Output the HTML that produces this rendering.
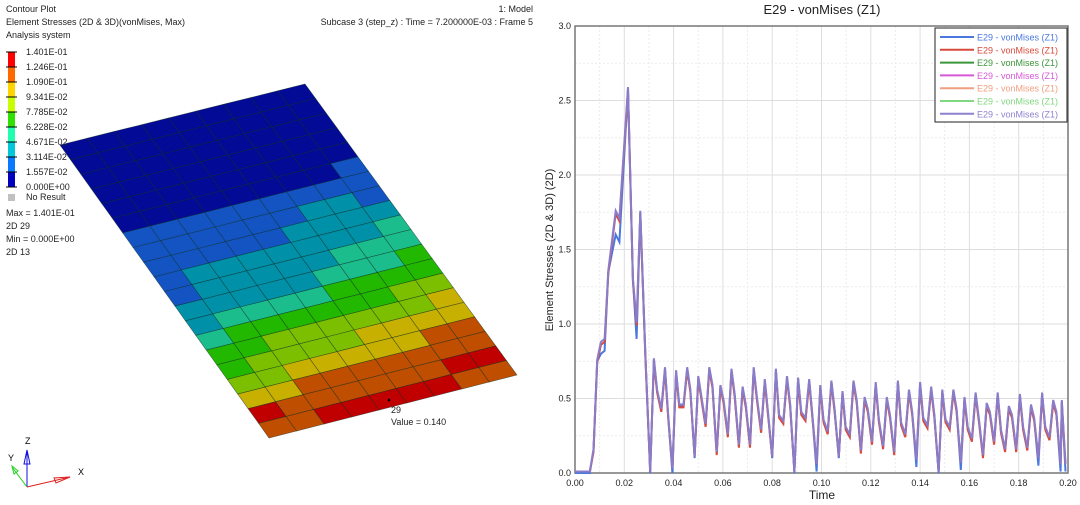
<!DOCTYPE html>
<html><head><meta charset="utf-8"><style>
html,body{margin:0;padding:0;background:#fff;width:1080px;height:505px;overflow:hidden;font-family:"Liberation Sans","DejaVu Sans",sans-serif}
svg{position:absolute;left:0;top:0}
</style></head><body>
<svg id="s" width="1080" height="505" xmlns="http://www.w3.org/2000/svg" font-family="Liberation Sans, DejaVu Sans, sans-serif">
<g id="mesh"></g>
<g font-size="9" fill="#222">
<text x="6" y="12">Contour Plot</text>
<text x="6" y="25">Element Stresses (2D &amp; 3D)(vonMises, Max)</text>
<text x="6" y="38">Analysis system</text>
<text x="533" y="12" text-anchor="end">1: Model</text>
<text x="533" y="25" text-anchor="end">Subcase 3 (step_z) : Time = 7.200000E-03 : Frame 5</text>
</g>
<g id="cbar"></g>
<g font-size="9" fill="#222">
<rect x="8" y="194" width="7" height="7" fill="#c0c0c0"/>
<text x="26" y="200">No Result</text>
<text x="6" y="216">Max =  1.401E-01</text>
<text x="6" y="229">2D 29</text>
<text x="6" y="242">Min =  0.000E+00</text>
<text x="6" y="255">2D 13</text>
<circle cx="389" cy="400" r="1.3" fill="#000"/>
<text x="391" y="413">29</text>
<text x="391" y="425">Value = 0.140</text>
</g>
<g>
<line x1="27" y1="487" x2="27" y2="452" stroke="#1010e0" stroke-width="1"/>
<polygon points="27,450 24,464 30,464" fill="none" stroke="#1010e0"/>
<line x1="27" y1="487" x2="12" y2="467" stroke="#20d020"/>
<polygon points="12,466 14,474 18,471" fill="none" stroke="#20d020"/>
<line x1="27" y1="487" x2="70" y2="477" stroke="#e02020"/>
<polygon points="70,477 54,478 56,483" fill="none" stroke="#e02020"/>
<text x="25" y="444" font-size="9">Z</text>
<text x="8" y="461" font-size="9">Y</text>
<text x="78" y="475" font-size="9">X</text>
</g>
<g id="chart"></g>
</svg>
<script>
var NS="http://www.w3.org/2000/svg";
function el(p,t,a,txt){var e=document.createElementNS(NS,t);for(var k in a)e.setAttribute(k,a[k]);if(txt!=null)e.textContent=txt;p.appendChild(e);return e;}
var cb=document.getElementById('cbar');
var bc=["#ff0000","#ff6a00","#ffd400","#c8ff00","#2fe000","#20ffb0","#00c8d8","#0a78ff","#0000c0"];
var labs=["1.401E-01","1.246E-01","1.090E-01","9.341E-02","7.785E-02","6.228E-02","4.671E-02","3.114E-02","1.557E-02","0.000E+00"];
var y0=52,h=15;
bc.forEach(function(c,i){el(cb,'rect',{x:8,y:y0+i*h,width:7,height:h,fill:c});});
labs.forEach(function(l,i){var y=y0+i*h;el(cb,'line',{x1:6,y1:y,x2:17,y2:y,stroke:'#000','stroke-width':1});el(cb,'text',{x:26,y:y+3,'font-size':9,fill:'#222'},l);});
var m=document.getElementById('mesh');
var TL=[60,145],TR=[305,84],BR=[517,375],BL=[269,438];
var C=9,R=20;
function P(u,v){var x=(1-u)*(1-v)*TL[0]+u*(1-v)*TR[0]+u*v*BR[0]+(1-u)*v*BL[0];var y=(1-u)*(1-v)*TL[1]+u*(1-v)*TR[1]+u*v*BR[1]+(1-u)*v*BL[1];return x.toFixed(1)+","+y.toFixed(1);}
var mc=["#020a96","#1354c2","#0090a8","#1cbd8c","#23b800","#7cbf00","#c7b000","#c04e00","#c00000"];
var grid=[
"000000000","000000000","000000000","000000000","000000000",
"000000001","111111111","111111221","111112222","122222223",
"122222333","222223334","233334444","344444455","445555556",
"455556666","556666677","667777777","777777788","878888877"];
for(var r=0;r<R;r++)for(var c=0;c<C;c++){
 var b=+grid[r][c];
 if(r==19&&(c==0)) b=7; if(r==18&&c==0) b=8;
 if(r==19&&c>=2&&c<=5) b=8;
 var pts=[P(c/C,r/R),P((c+1)/C,r/R),P((c+1)/C,(r+1)/R),P(c/C,(r+1)/R)].join(" ");
 el(m,'polygon',{points:pts,fill:mc[b],stroke:'#0a2a20','stroke-width':0.6,'stroke-opacity':0.6});
}
var g=document.getElementById('chart');
var X0=575,X1=1068,Y0=473,Y1=26;
function sx(t){return X0+(X1-X0)*t/0.2;} function sy(v){return Y0-(Y0-Y1)*v/3;}
el(g,'text',{x:822,y:14,'font-size':13,'text-anchor':'middle',fill:'#222'},"E29 - vonMises (Z1)");
for(var i=0;i<=20;i++){var x=sx(i*0.01);el(g,'line',{x1:x,y1:Y1,x2:x,y2:Y0,stroke:i%2?'#ececec':'#dedede','stroke-dasharray':i%2?'2,2':'none'});}
for(var i=0;i<=12;i++){var y=sy(i*0.25);el(g,'line',{x1:X0,y1:y,x2:X1,y2:y,stroke:i%2?'#ececec':'#dedede','stroke-dasharray':i%2?'2,2':'none'});}
el(g,'rect',{x:X0,y:Y1,width:X1-X0,height:Y0-Y1,fill:'none',stroke:'#777','stroke-width':1.5});
for(var i=0;i<=10;i++){var t=i*0.02;el(g,'text',{x:sx(t),y:486,'font-size':9,'text-anchor':'middle',fill:'#222'},t.toFixed(2));}
for(var i=0;i<=6;i++){var v=i*0.5;el(g,'text',{x:571,y:sy(v)+3,'font-size':9,'text-anchor':'end',fill:'#222'},v.toFixed(1));}
el(g,'text',{x:822,y:499,'font-size':12,'text-anchor':'middle',fill:'#222'},"Time");
el(g,'text',{x:0,y:0,'font-size':11,'text-anchor':'middle',fill:'#222',transform:'translate(553,250) rotate(-90)'},"Element Stresses (2D & 3D) (2D)");
var base=[[0,0],[0.006,0],[0.0075,0.15],[0.009,0.75],[0.0105,0.87],[0.012,0.89],[0.0135,1.35],[0.0165,1.75],[0.018,1.7],[0.0215,2.58],[0.0235,1.3],[0.025,1.0],[0.0265,1.75],[0.0285,0.8],[0.0305,0.0]];
var pk=[0.76,0.70,0.68,0.70,0.64,0.70,0.58,0.69,0.57,0.70,0.62,0.69,0.64,0.63,0.62,0.58,0.61,0.54,0.61,0.50,0.60,0.50,0.61,0.55,0.60,0.57,0.55,0.55,0.50,0.53,0.46,0.53,0.44,0.52,0.45,0.53,0.48];
var lo=[0.42,0.02,0.45,0.10,0.32,0.13,0.25,0.18,0.18,0.28,0.10,0.34,0.00,0.36,0.05,0.27,0.10,0.25,0.14,0.20,0.17,0.13,0.25,0.08,0.31,0.00,0.30,0.06,0.22,0.11,0.20,0.15,0.15,0.16,0.09,0.23,0.05];
var mid=[0.55,0.38,0.45,0.55,0.50,0.58,0.48,0.52,0.45,0.50,0.40,0.38,0.45,0.40,0.38,0.35,0.42,0.30,0.48,0.42,0.35,0.38,0.33,0.40,0.36,0.38,0.35,0.42,0.30,0.36,0.40,0.28,0.38,0.30,0.36,0.30,0.40];
var d=base.slice(),t=0.0305,k=0;
while(t<0.196){var i=k%pk.length;d.push([t+0.0015,pk[i]]);d.push([t+0.0028,mid[i]]);d.push([t+0.0045,lo[i]]);t+=0.0045;k++;}
d.push([0.1975,0.48]);d.push([0.199,0.05]);
function path(f){return d.map(function(p,i){return (i?"L":"M")+sx(p[0]).toFixed(1)+","+sy(f(p)).toFixed(1);}).join("");}
el(g,'path',{d:path(function(p){var t=p[0];if(t>0.016&&t<0.02)return p[1]-0.15;if(t>0.01&&t<0.013)return p[1]-0.07;if(t>0.024&&t<0.026)return p[1]-0.1;if(p[1]<0.1)return Math.max(0,p[1]-0.04);return p[1];}),fill:'none',stroke:'#4a78e0','stroke-width':2});
el(g,'path',{d:path(function(p){return p[1]>0.1?p[1]-0.01:p[1]+0.01;}),fill:'none',stroke:'#d84a3a','stroke-width':2});
el(g,'path',{d:path(function(p){return p[1]+0.01;}),fill:'none',stroke:'#8a7cc8','stroke-width':2});
el(g,'rect',{x:935,y:28,width:132,height:94,fill:'#fff',stroke:'#222','stroke-width':1});
var lc=["#4a78e0","#d84a3a","#3a963a","#d858d8","#f0a080","#80d880","#9080d0"];
lc.forEach(function(c,i){var y=37+i*12.8;el(g,'line',{x1:940,y1:y,x2:974,y2:y,stroke:c,'stroke-width':2});el(g,'text',{x:977,y:y+3.5,'font-size':9,fill:c},"E29 - vonMises (Z1)");});
</script>
</body></html>
